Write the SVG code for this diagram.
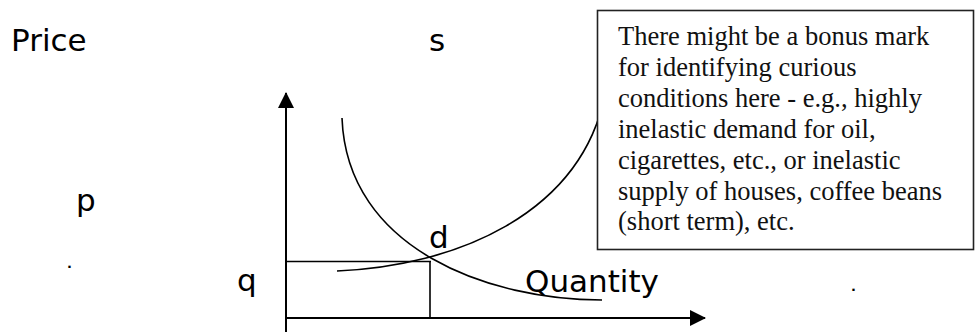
<svg xmlns="http://www.w3.org/2000/svg" width="975" height="332" viewBox="0 0 975 332">
<style>
.lbl{font-family:"DejaVu Sans",Verdana,sans-serif;font-size:31px;fill:#000}
.note{font-family:"Liberation Serif","Times New Roman",serif;font-size:26.5px;fill:#111}
.ax{stroke:#000;stroke-width:2;fill:none}
.ln{stroke:#000;stroke-width:1.6;fill:none}
.dot{font-family:"DejaVu Sans",sans-serif;font-size:13px;font-weight:bold;fill:#000}
</style>
<defs>
<marker id="arr" viewBox="0 0 16 16" refX="15" refY="8" markerWidth="16" markerHeight="16" markerUnits="userSpaceOnUse" orient="auto">
<path d="M0,0 L16,8 L0,16 Z" fill="#000"/>
</marker>
</defs>
<rect width="975" height="332" fill="#fff"/>
<g id="labels">
<text class="lbl" x="11" y="51">Price</text>
<text class="lbl" x="429" y="51">s</text>
<text class="lbl" x="76" y="211">p</text>
<text class="lbl" x="429" y="248">d</text>
<text class="lbl" x="237" y="291">q</text>
<text class="lbl" x="525" y="292">Quantity</text>
<text class="dot" x="67" y="268">.</text>
<text class="dot" x="851" y="291">.</text>
</g>
<g id="connectors">
<path id="y-axis" class="ax" d="M286,332 L286,93" marker-end="url(#arr)"/>
<path id="x-axis" class="ax" d="M286,318 L705,318" marker-end="url(#arr)"/>
<path id="q-line" class="ln" d="M286,261.5 L431,261.5"/>
<path id="p-line" class="ln" d="M430,261 L430,318"/>
<path id="demand" class="ln" d="M342,118 C347,250 490,300 602,300"/>
<path id="supply" class="ln" d="M337,271 C455,266 580,215 605,95"/>
</g>
<g id="note">
<rect x="597.5" y="10.5" width="376" height="239" fill="#fff" stroke="#222" stroke-width="1.6"/>
<text class="note" x="618" y="45">There might be a bonus mark</text>
<text class="note" x="618" y="76">for identifying curious</text>
<text class="note" x="618" y="107">conditions here - e.g., highly</text>
<text class="note" x="618" y="138">inelastic demand for oil,</text>
<text class="note" x="618" y="168.5">cigarettes, etc., or inelastic</text>
<text class="note" x="618" y="199.5">supply of houses, coffee beans</text>
<text class="note" x="618" y="230">(short term), etc.</text>
</g>
</svg>
